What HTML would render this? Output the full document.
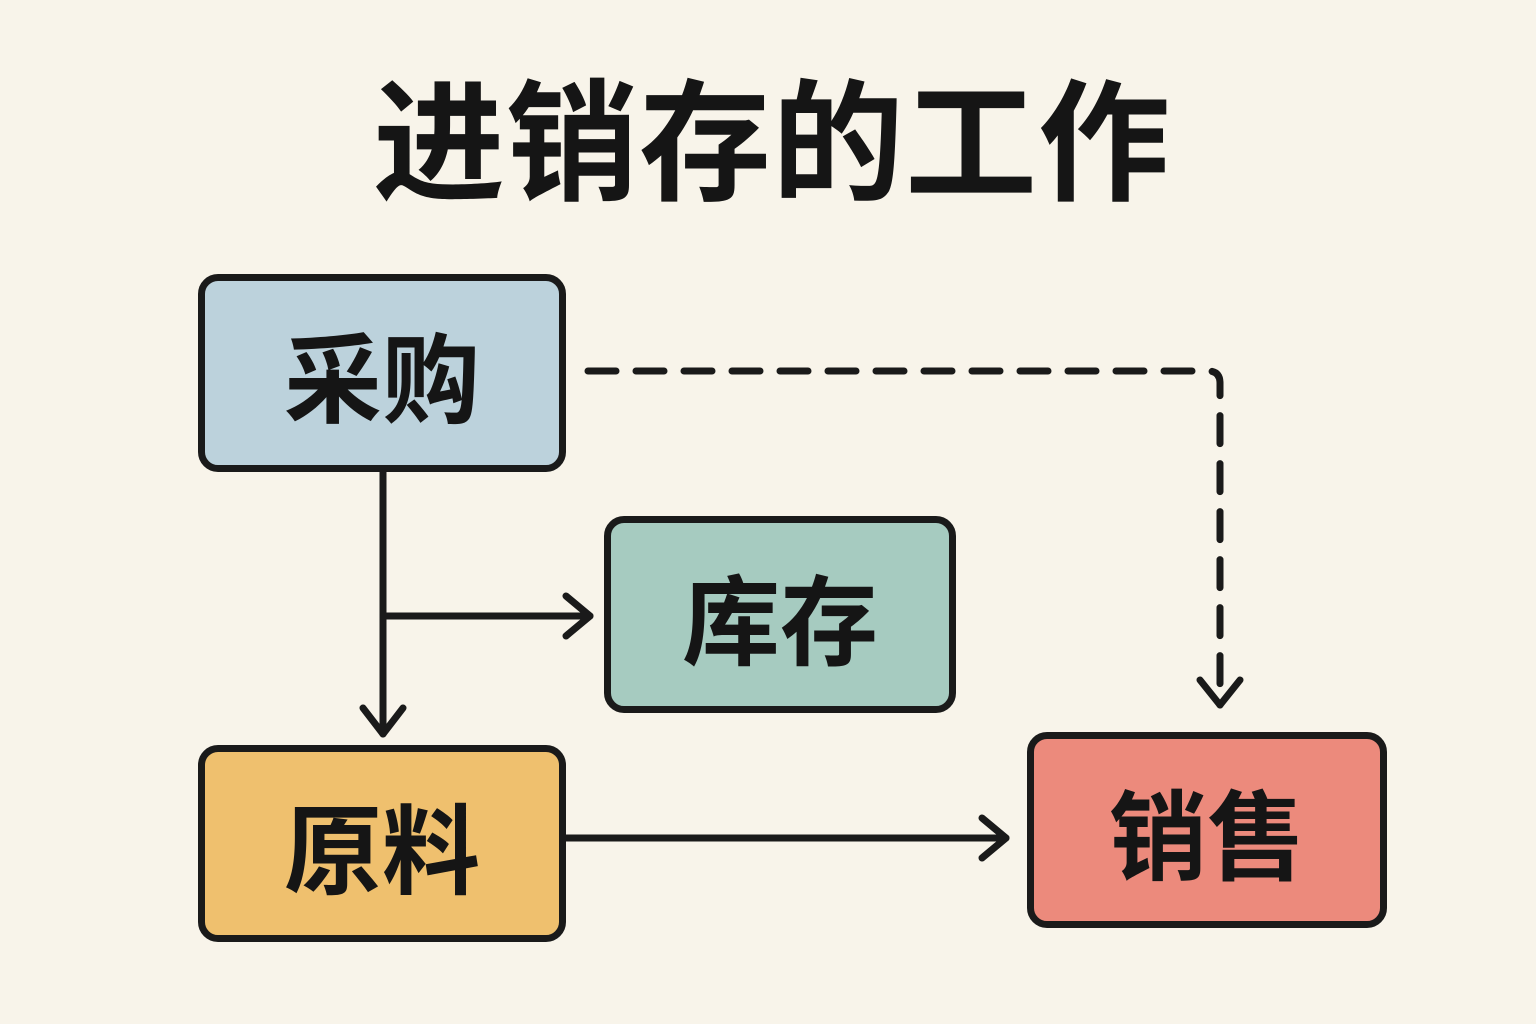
<!DOCTYPE html>
<html><head><meta charset="utf-8"><style>
body{margin:0;width:1536px;height:1024px;background:#f8f4ea;position:relative;overflow:hidden;font-family:"Liberation Sans","Noto Sans CJK SC",sans-serif}
.t{position:absolute;left:0;width:1536px;top:70px;text-align:center;font-size:132px;font-weight:700;color:#151515;line-height:150px;letter-spacing:1px;padding-left:4px}
.b{position:absolute;box-sizing:border-box;border:7px solid #1a1a1a;border-radius:20px;display:flex;align-items:center;justify-content:center;font-size:98px;font-weight:700;color:#151515}
svg{position:absolute;left:0;top:0}
</style></head><body>
<div class="t">进销存的工作</div>
<svg width="1536" height="1024" fill="none" stroke="#1a1a1a" stroke-width="7" stroke-linecap="round" stroke-linejoin="round">
<line x1="383" y1="470" x2="383" y2="734"/>
<polyline points="363,708 383,734 403,708"/>
<line x1="383" y1="616" x2="590" y2="616"/>
<polyline points="566,596 590,616 566,636"/>
<line x1="565" y1="838" x2="1006" y2="838"/>
<polyline points="982,818 1006,838 982,858"/>
<path d="M588 371 H1208 Q1220 371 1220 383 V705" stroke-dasharray="28 20"/>
<polyline points="1200,680 1220,705 1240,680"/>
</svg>
<div class="b" style="left:198px;top:274px;width:368px;height:198px;background:#bcd2dc">采购</div>
<div class="b" style="left:604px;top:516px;width:352px;height:197px;background:#a6cbc0">库存</div>
<div class="b" style="left:198px;top:745px;width:368px;height:197px;background:#efc06e">原料</div>
<div class="b" style="left:1027px;top:732px;width:360px;height:196px;background:#ec8a7c">销售</div>
</body></html>
